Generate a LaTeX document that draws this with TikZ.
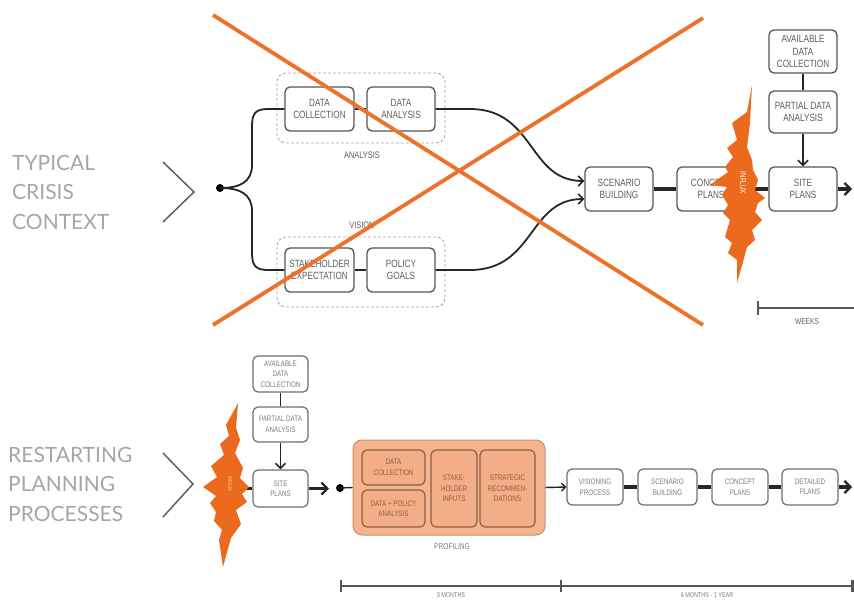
\documentclass[tikz,border=0pt]{standalone}
\usepackage{fontspec}
\setmainfont{Liberation Sans}
\newfontfamily\cond[FakeStretch=0.78]{Liberation Sans}
\newfontfamily\lbl{Lato}
\usetikzlibrary{arrows.meta}
\definecolor{orgline}{HTML}{EE7128}
\definecolor{burstc}{HTML}{EB6A1E}
\definecolor{boxc}{HTML}{555555}
\definecolor{txtc}{HTML}{5E5E5E}
\definecolor{lblc}{HTML}{A6A6A6}
\definecolor{proffill}{HTML}{F4B48E}
\definecolor{profdraw}{HTML}{C9906C}
\definecolor{innerdraw}{HTML}{8E5E40}
\definecolor{innerfill}{HTML}{F2AE86}
\tikzset{
  box/.style={draw=boxc, line width=1.3pt, rounded corners=5pt, fill=white, text=txtc,
    font=\cond\fontsize{10.5}{12.5}\selectfont, align=center, inner sep=1pt},
  sbox/.style={draw=boxc!85, line width=1.2pt, rounded corners=5pt, fill=white, text=txtc!80,
    font=\cond\fontsize{8}{10.5}\selectfont, align=center, inner sep=1pt},
  ibox/.style={draw=innerdraw, line width=1.2pt, rounded corners=5pt, fill=innerfill, text=innerdraw,
    font=\cond\fontsize{8}{10.5}\selectfont, align=center, inner sep=1pt},
  groupbox/.style={draw=gray!70, densely dashed, line width=0.8pt, rounded corners=9pt},
  caption/.style={text=txtc, font=\cond\fontsize{9.5}{11}\selectfont},
  conn/.style={draw=black!85, line width=1.8pt},
  thinconn/.style={draw=black!85, line width=1.4pt},
  heavy/.style={draw=black!85, line width=3.2pt},
  tip/.style={-{Straight Barb[length=5pt,width=10pt,line width=1.6pt]}},
  bigtip/.style={-{Straight Barb[length=6pt,width=12pt,line width=2.2pt]}},
  chev/.style={draw=gray!75!black, line width=1.5pt},
  sidelbl/.style={anchor=west, align=left, text=lblc, font=\lbl\fontsize{21}{29.5}\selectfont, inner sep=0pt},
  dotn/.style={circle, fill=black, inner sep=0pt, minimum size=8pt},
  scaleline/.style={draw=boxc, line width=1.2pt},
  xline/.style={draw=orgline, line width=3.8pt},
}
\begin{document}
\begin{tikzpicture}[x=1pt,y=-1pt]
\useasboundingbox[fill=white] (0,0) rectangle (854,600);

% ---------------- TOP: typical crisis context ----------------
\node[sidelbl] (lt) at (12,192) {TYPICAL\\CRISIS\\CONTEXT};
\draw[chev] (163,162) -- (194,192) -- (163,222);

\node[groupbox, minimum width=168pt, minimum height=70pt] (anbox) at (361,108) {};
\node[groupbox, minimum width=168pt, minimum height=70pt] (visbox) at (361,272) {};
\node[caption] (anl) at (362,155) {ANALYSIS};
\node[caption] (visl) at (362,225) {VISION};

\node[box, minimum width=69pt, minimum height=44pt] (dc) at (319.5,109) {DATA\\COLLECTION};
\node[box, minimum width=68pt, minimum height=44pt] (da) at (401,109) {DATA\\ANALYSIS};
\node[box, minimum width=69pt, minimum height=44pt] (sh) at (319.5,270) {STAKEHOLDER\\EXPECTATION};
\node[box, minimum width=68pt, minimum height=44pt] (pg) at (401,270) {POLICY\\GOALS};

\node[dotn] (d1) at (220,188) {};
\draw[conn] (d1.center) .. controls (240,188) and (252,182) .. (252,165) -- (252,126)
  .. controls (252,113) and (256,109) .. (268,109) -- (dc.west);
\draw[conn] (d1.center) .. controls (240,188) and (252,194) .. (252,211) -- (252,253)
  .. controls (252,266) and (256,270) .. (268,270) -- (sh.west);
\draw[conn] (dc.east) -- (da.west);
\draw[conn] (sh.east) -- (pg.west);

\node[box, minimum width=68pt, minimum height=44pt] (sb) at (619,189) {SCENARIO\\BUILDING};
\node[box, minimum width=68pt, minimum height=44pt] (cp) at (711,189) {CONCEPT\\PLANS};
\node[box, minimum width=68pt, minimum height=44pt] (sp) at (803,189) {SITE\\PLANS};
\node[box, minimum width=68pt, minimum height=43pt] (adc) at (803,51.5) {AVAILABLE\\DATA\\COLLECTION};
\node[box, minimum width=68pt, minimum height=42pt] (pda) at (803,112) {PARTIAL DATA\\ANALYSIS};

\draw[conn, tip] (da.east) -- (470,109) .. controls (535,109) and (528,181) .. ([yshift=8pt]sb.west);
\draw[conn, tip] (pg.east) -- (470,270) .. controls (535,270) and (528,199) .. ([yshift=-10pt]sb.west);
\draw[heavy] (sb) -- (cp);
\draw[heavy] (cp) -- (sp);
\coordinate (tr) at (852,189);
\draw[heavy, bigtip] (sp) -- (tr);
\draw[thinconn] (adc) -- (pda);
\draw[thinconn, tip] (pda) -- (sp);

% top burst
\fill[burstc] (752,85) -- (747,112) -- (732,123) -- (737,140) -- (727,148) -- (733,157)
  -- (725,167) -- (728,172) -- (710,185) -- (727,187) -- (722,195) -- (728,205)
  -- (723,213) -- (730,220) -- (725,237) -- (732,243) -- (728,253) -- (737,260)
  -- (737,283) -- (743,262) -- (747,247) -- (755,240) -- (752,230) -- (762,220)
  -- (755,212) -- (758,203) -- (765,198) -- (755,190) -- (758,180) -- (753,170)
  -- (752,160) -- (747,147) -- (750,123) -- cycle;
\node[rotate=-90, text=white, font=\cond\fontsize{8}{9}\selectfont] (inf1) at (743,183) {INFLUX};

% weeks scale
\draw[scaleline, line width=2.2pt] (758,301) -- (758,315);
\coordinate (wk1) at (758,308);
\coordinate (wk2) at (854,308);
\draw[scaleline] (wk1) -- (wk2);
\node[caption, font=\cond\fontsize{8.5}{10}\selectfont] (wkl) at (807,322) {WEEKS};

% orange cross
\coordinate (x1) at (213,15);
\coordinate (x2) at (703,325);
\coordinate (x3) at (213,325);
\coordinate (x4) at (703,18);
\draw[xline] (x1) -- (x2);
\draw[xline] (x3) -- (x4);

% ---------------- BOTTOM: restarting planning processes ----------------
\node[sidelbl] (lb) at (8,484) {RESTARTING\\PLANNING\\PROCESSES};
\draw[chev] (163,453) -- (193,484) -- (163,517);

\node[sbox, minimum width=55pt, minimum height=36pt] (badc) at (280.5,374) {AVAILABLE\\DATA\\COLLECTION};
\node[sbox, minimum width=55pt, minimum height=35pt] (bpda) at (280.5,424.5) {PARTIAL DATA\\ANALYSIS};
\node[sbox, minimum width=55pt, minimum height=37pt] (bsp) at (280.5,488.5) {SITE\\PLANS};
\draw[thinconn] (badc) -- (bpda);
\draw[thinconn, tip] (bpda) -- (bsp);
\coordinate (bin) at (236,488.5);
\draw[heavy] (bin) -- (bsp.west);

% bottom burst
\fill[burstc] (238,403) -- (236,428) -- (240,440) -- (235,453) -- (243,468) -- (240,478)
  -- (249,487) -- (242,494) -- (247,502) -- (236,510) -- (241,524) -- (231,538)
  -- (223,567) -- (219,540) -- (222,530) -- (214,521) -- (216,512) -- (210,503)
  -- (216,496) -- (203,487) -- (217,477) -- (211,466) -- (224,455) -- (220,444)
  -- (229,436) -- (226,425) -- cycle;
\node[rotate=-90, text=white!70!burstc, font=\cond\fontsize{5.5}{6}\selectfont] (inf2) at (230,484) {INFLUX};

\coordinate (bsa) at (329,488.5);
\draw[heavy, bigtip] (bsp.east) -- (bsa);
\node[dotn] (d2) at (340,488) {};

\node[draw=profdraw, fill=proffill, line width=1pt, rounded corners=9pt, minimum width=192pt, minimum height=95pt] (prof) at (449,487.5) {};
\node[ibox, minimum width=63pt, minimum height=35pt] (p1) at (393.5,467.5) {DATA\\COLLECTION};
\node[ibox, minimum width=63pt, minimum height=37pt] (p2) at (393.5,508.5) {DATA + POLICY\\ANALYSIS};
\node[ibox, minimum width=46pt, minimum height=77pt] (p3) at (454,488.5) {STAKE-\\HOLDER\\INPUTS};
\node[ibox, minimum width=55pt, minimum height=77pt] (p4) at (507.5,488.5) {STRATEGIC\\RECOMMEN-\\DATIONS};
\node[caption, font=\cond\fontsize{8.5}{10}\selectfont, text=txtc!80] (profl) at (452,547) {PROFILING};
\draw[thinconn] (d2.center) -- (prof.west);

\node[sbox, minimum width=56pt, minimum height=36pt] (vp) at (595,487) {VISIONING\\PROCESS};
\node[sbox, minimum width=59pt, minimum height=36pt] (bsb) at (667.5,487) {SCENARIO\\BUILDING};
\node[sbox, minimum width=56pt, minimum height=36pt] (bcp) at (740,487) {CONCEPT\\PLANS};
\node[sbox, minimum width=56pt, minimum height=36pt] (bdp) at (810,487) {DETAILED\\PLANS};
\draw[thinconn, -{Straight Barb[length=4pt,width=8pt,line width=1.3pt]}] (prof.east) -- (vp.west);
\draw[heavy] (vp) -- (bsb);
\draw[heavy] (bsb) -- (bcp);
\draw[heavy] (bcp) -- (bdp);
\coordinate (br) at (852,487);
\draw[heavy, bigtip] (bdp) -- (br);

% bottom time scale
\coordinate (s1) at (341,586);
\coordinate (s2) at (561,586);
\coordinate (s3) at (853,586);
\draw[scaleline] (s1) -- (s3);
\draw[scaleline, line width=2.2pt] (341,580) -- (341,592);
\draw[scaleline, line width=2.2pt] (561,580) -- (561,592);
\draw[scaleline, line width=2.2pt] (852.5,580) -- (852.5,592);
\node[caption, font=\cond\fontsize{7}{8}\selectfont, text=txtc!80, inner sep=0pt] (m1) at (451,595.5) {3 MONTHS};
\node[caption, font=\cond\fontsize{7}{8}\selectfont, text=txtc!80, inner sep=0pt] (m2) at (707,595.5) {6 MONTHS - 1 YEAR};
\end{tikzpicture}
\end{document}
